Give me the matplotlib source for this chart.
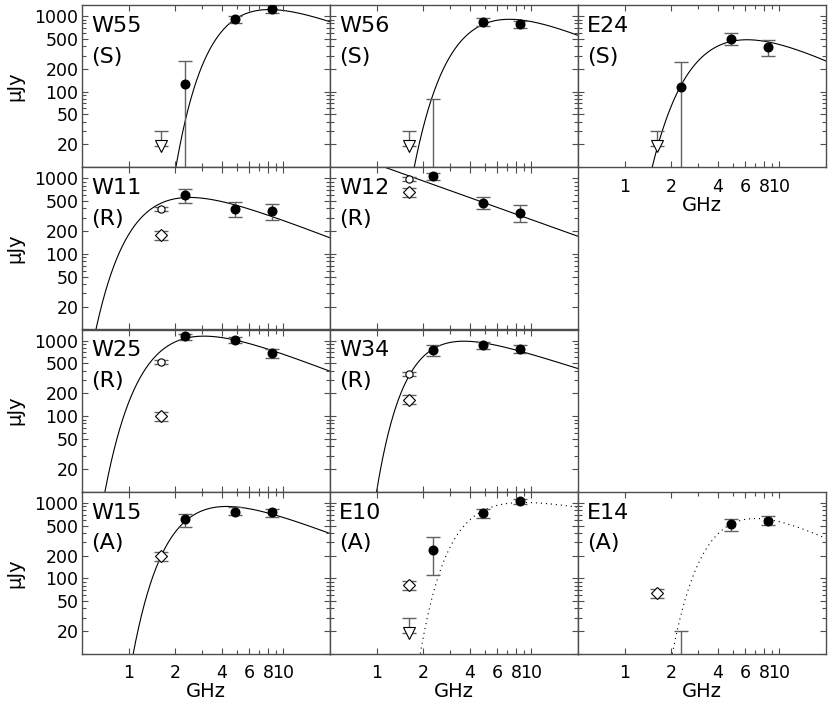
"""Radio spectra of compact sources, 4x3 grid of log-log panels."""
import matplotlib
matplotlib.use("Agg")
import matplotlib.pyplot as plt
import numpy as np
from matplotlib.ticker import FixedLocator, FixedFormatter, NullFormatter

# ----------------------------- data ---------------------------------------
NAMES = ["W55", "W56", "E24", "W11", "W12", "W25", "W34", "W15", "E10", "E14"]
CLASSES = ["S", "S", "S", "R", "R", "R", "R", "A", "A", "A"]
# (row, col) of each panel
GRID = [(0, 0), (0, 1), (0, 2), (1, 0), (1, 1), (2, 0), (2, 1), (3, 0), (3, 1), (3, 2)]

# filled points (GHz) and flux (uJy) with lower/upper error-bar ends
FREQ_FILLED = [2.3, 4.85, 8.4]
FLUX = [
    [126, 914, 1227], [5, 841, 783], [116, 496, 393],
    [596, 397, 370], [1064, 477, 352], [1142, 1011, 687], [744, 867, 783],
    [609, 767, 745], [234, 723, 1041], [5, 522, 578],
]
FLUX_LO = [
    [1, 816, 1107], [1, 745, 700], [1, 413, 298],
    [471, 307, 284], [942, 389, 264], [1032, 921, 596], [620, 780, 689],
    [477, 680, 657], [111, 628, 950], [1, 430, 501],
]
FLUX_HI = [
    [253, 1009, 1380], [79, 933, 867], [244, 589, 481],
    [716, 486, 462], [1186, 569, 440], [1239, 1108, 776], [877, 953, 885],
    [719, 867, 840], [358, 822, 1131], [20, 608, 659],
]

# 1.6 GHz measurements: open circle, open diamond, upper limit (None = absent)
FREQ_LOW = 1.63
CIRCLE = [None, None, None, 389, 991, 522, 362, None, None, None]
DIAMOND = [None, None, None, 176, 659, 101, 166, 199, 82, 64]
LIMIT = [19, 19, 19, None, None, None, None, None, 19, None]
LIMIT_CAP = 30

# points (GHz, uJy)
CURVE_NU = [
    [2.02, 2.3, 4.85, 8.4, 20],
    [1.75, 2.3, 3.12, 4.85, 6.9, 8.4, 20],
    [1.51, 1.63, 2.3, 5.0, 8.4, 20],
    [0.615, 1.63, 2.3, 4.85, 8.4, 20],
    [1.13, 20],
    [0.703, 1.63, 2.89, 4.85, 8.4, 20],
    [1.0, 1.63, 2.3, 3.62, 4.85, 8.4, 20],
    [1.07, 1.63, 2.3, 4.0, 8.4, 20],
    [1.92, 2.3, 2.83, 3.62, 4.2, 4.85, 8.0, 20],
    [2.06, 2.33, 2.64, 3.06, 3.52, 4.23, 4.85, 6.76, 8.4, 20],
]
CURVE_S = [
    [10, 38, 900, 1220, 841],
    [10, 90, 321, 841, 885, 859, 561],
    [10, 19, 116, 481, 444, 256],
    [10, 450, 600, 440, 300, 167],
    [1400, 171],
    [10, 720, 1200, 1011, 708, 401],
    [10, 360, 744, 962, 914, 783, 413],
    [10, 199, 580, 855, 731, 389],
    [10, 64, 205, 462, 628, 760, 1096, 851],
    [11, 38, 82, 167, 278, 426, 522, 628, 608, 337],
]
CURVE_DOTTED = [False] * 8 + [True, True]

XLIM = (0.5, 20)
YLIM = (10, 1400)
ERR_COLOR = "0.38"


def fit_absorbed_pl(nu, s):
    """Power law with exponential low-frequency cutoff, fitted in log space."""
    nu = np.asarray(nu, float)
    y = np.log10(s)
    best = None
    for p in np.arange(0.8, 3.51, 0.01):
        A = np.column_stack([np.ones_like(nu), np.log10(nu), -nu ** -p])
        coef = np.linalg.lstsq(A, y, rcond=None)[0]
        r = np.sum((A @ coef - y) ** 2)
        if best is None or r < best[0]:
            best = (r, p, coef)
    return best[1], best[2]


def curve(nu_pts, s_pts):
    if len(nu_pts) == 2:
        return np.array(nu_pts), np.array(s_pts)
    p, (k, a, c) = fit_absorbed_pl(nu_pts, s_pts)
    nu = np.logspace(np.log10(XLIM[0]), np.log10(XLIM[1]), 600)
    logs = k + a * np.log10(nu) - c * nu ** -p
    return nu, 10 ** np.clip(logs, -3, 6)


def style_axes(ax, ylabels, xlabels):
    ax.set_xscale("log")
    ax.set_yscale("log")
    ax.set_xlim(*XLIM)
    ax.set_ylim(*YLIM)
    ax.xaxis.set_major_locator(FixedLocator([1, 2, 4, 6, 8, 10]))
    ax.xaxis.set_minor_locator(FixedLocator([3, 5, 7, 9]))
    ax.xaxis.set_major_formatter(FixedFormatter(["1", "2", "4", "6", "8", "10"]))
    ax.xaxis.set_minor_formatter(NullFormatter())
    ax.yaxis.set_major_locator(FixedLocator([20, 50, 100, 200, 500, 1000]))
    ax.yaxis.set_minor_locator(FixedLocator([10, 30, 40, 60, 70, 80, 90,
                                             300, 400, 600, 700, 800, 900]))
    ax.yaxis.set_major_formatter(FixedFormatter(["20", "50", "100", "200", "500", "1000"]))
    ax.yaxis.set_minor_formatter(NullFormatter())
    ax.tick_params(which="both", direction="in", top=True, right=True,
                   color="0.3", width=0.8, labelsize=12.5)
    ax.tick_params(which="major", length=4)
    ax.tick_params(which="minor", length=3)
    ax.tick_params(axis="x", pad=7.5)
    ax.tick_params(axis="y", pad=2.5)
    ax.tick_params(labelleft=ylabels, labelbottom=xlabels)
    for sp in ax.spines.values():
        sp.set_color("0.3")
        sp.set_linewidth(1.0)
    if ylabels:
        ax.set_ylabel("µJy", fontsize=14)
        ax.yaxis.set_label_coords(-0.232, 0.5)
    if xlabels:
        ax.set_xlabel("GHz", fontsize=14)
        ax.xaxis.set_label_coords(0.5, -0.175)


fig = plt.figure(figsize=(8.3, 7.07), dpi=100)
W, H = 830, 707
col_left = [82, 330, 578]
row_top = [5, 167.25, 329.5, 491.75]
pw, ph = 248, 162.25

for i, name in enumerate(NAMES):
    r, c = GRID[i]
    ax = fig.add_axes([col_left[c] / W, 1 - (row_top[r] + ph) / H, pw / W, ph / H])
    style_axes(ax, ylabels=(c == 0), xlabels=(r == 3 or name == "E24"))

    nu, s = curve(CURVE_NU[i], CURVE_S[i])
    ls = (0, (1, 3.5)) if CURVE_DOTTED[i] else "-"
    ax.plot(nu, s, color="k", lw=0.8, ls=ls, zorder=1.5)

    f = np.array(FLUX[i], float)
    lo = f - np.array(FLUX_LO[i], float)
    hi = np.array(FLUX_HI[i], float) - f
    ax.errorbar(FREQ_FILLED, f, yerr=[lo, hi], fmt="none", ecolor=ERR_COLOR,
                elinewidth=1.0, capsize=5, capthick=1.0, zorder=2)
    ax.plot(FREQ_FILLED, f, "o", ms=6.2, color="k", zorder=3)

    if CIRCLE[i] is not None:
        v = CIRCLE[i]
        ax.errorbar([FREQ_LOW], [v], yerr=[[0.06 * v], [0.06 * v]], fmt="none",
                    ecolor=ERR_COLOR, elinewidth=1.0, capsize=5, capthick=1.0, zorder=2)
        ax.plot([FREQ_LOW], [v], "o", ms=5.2, mfc="white", mec="k", mew=0.8, zorder=3)
    if DIAMOND[i] is not None:
        v = DIAMOND[i]
        ax.errorbar([FREQ_LOW], [v], yerr=[[0.14 * v], [0.14 * v]], fmt="none",
                    ecolor=ERR_COLOR, elinewidth=1.0, capsize=5, capthick=1.0, zorder=2)
        ax.plot([FREQ_LOW], [v], "D", ms=6.5, mfc="white", mec="k", mew=0.8, zorder=3)
    if LIMIT[i] is not None:
        v = LIMIT[i]
        ax.errorbar([FREQ_LOW], [v], yerr=[[0], [LIMIT_CAP - v]], fmt="none",
                    ecolor=ERR_COLOR, elinewidth=1.0, capsize=5, capthick=1.0, zorder=2)
        ax.plot([FREQ_LOW], [v], "v", ms=8, mfc="white", mec="k", mew=0.8, zorder=3)

    ax.text(0.036, 0.835, name, transform=ax.transAxes, fontsize=16, va="baseline")
    ax.text(0.036, 0.645, f"({CLASSES[i]})", transform=ax.transAxes, fontsize=16,
            va="baseline")

fig.savefig("out.png", dpi=100)
